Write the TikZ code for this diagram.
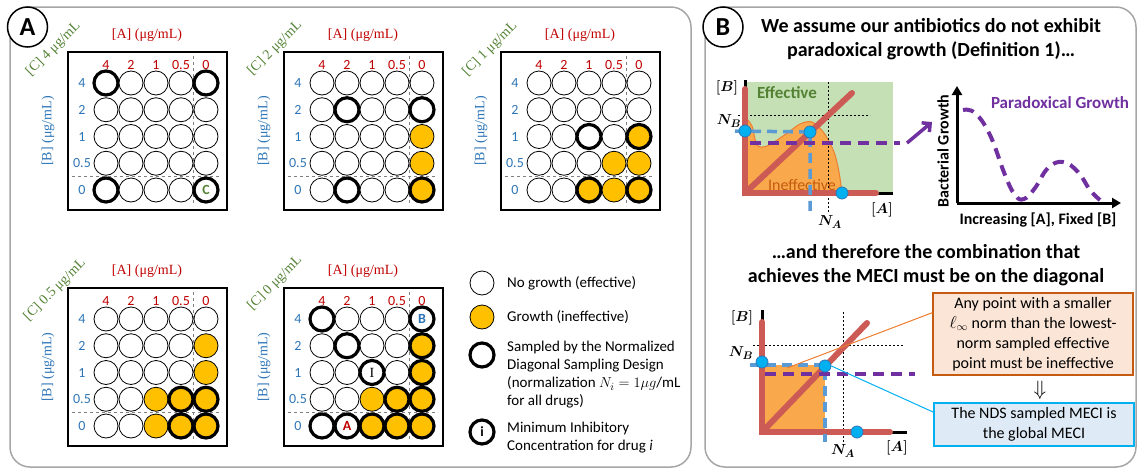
\documentclass[tikz,border=0pt]{standalone}
\usepackage{fontspec}
\setmainfont{Carlito}
\newfontfamily\cambria{Liberation Serif}
\usepackage{bm}
\usepackage{tikz}
\usetikzlibrary{positioning}
\usetikzlibrary{calc}
\usetikzlibrary{arrows.meta}
\definecolor{alabred}{HTML}{C00000}
\definecolor{blabblue}{HTML}{2E75B6}
\definecolor{clabgreen}{HTML}{548235}
\definecolor{growth}{HTML}{FFC000}
\definecolor{panelgray}{HTML}{A6A6A6}
\definecolor{effgreen}{HTML}{C5E0B4}
\definecolor{ineffor}{HTML}{F9A94B}
\definecolor{regionedge}{HTML}{ED7D31}
\definecolor{axisred}{HTML}{CC5B55}
\definecolor{dotblue}{HTML}{00B0F0}
\definecolor{dotedge}{HTML}{2E75B6}
\definecolor{nblue}{HTML}{5B9BD5}
\definecolor{purp}{HTML}{7030A0}
\definecolor{ineftext}{HTML}{C55A11}
\definecolor{notefill}{HTML}{FBE5D6}
\definecolor{noteedge}{HTML}{C55A11}
\definecolor{mecifill}{HTML}{DEEBF7}
\definecolor{meciedge}{HTML}{00B0F0}
\tikzstyle{well}=[circle,draw=black,fill=white,line width=0.8pt,minimum size=24pt,inner sep=0pt,font=\bfseries\fontsize{14}{14}\selectfont]
\tikzstyle{well-n}=[well]
\tikzstyle{well-o}=[well,fill=growth]
\tikzstyle{well-s}=[well,line width=3.2pt]
\tikzstyle{well-so}=[well,fill=growth,line width=3.2pt]
\tikzstyle{plate}=[rectangle,draw=black,line width=1.1pt,minimum width=159pt,minimum height=158pt,inner sep=0pt]
\tikzstyle{divider}=[draw=black!50,dashed,line width=0.8pt]
\tikzstyle{alab}=[text=alabred,font=\fontsize{14}{14}\selectfont]
\tikzstyle{blab}=[text=blabblue,font=\fontsize{14}{14}\selectfont]
\tikzstyle{unitlab}=[font=\cambria\fontsize{14}{14}\selectfont]
\tikzstyle{panel}=[draw=panelgray,line width=1.5pt,rounded corners=20pt]
\tikzstyle{panelmark}=[circle,draw=black,line width=1.5pt,fill=white,minimum size=40pt,inner sep=0pt,font=\bfseries\fontsize{26}{26}\selectfont]
\tikzstyle{legtext}=[anchor=west,align=left,inner sep=0pt,font=\fontsize{15}{18}\selectfont]
\tikzstyle{redaxis}=[draw=axisred,line width=6pt,line cap=round]
\tikzstyle{blackaxis}=[draw=black,line width=3pt]
\tikzstyle{guide}=[draw=black,line width=0.6pt,dash pattern=on 2pt off 2pt]
\tikzstyle{nline}=[draw=nblue,line width=3.5pt,dash pattern=on 10pt off 6pt]
\tikzstyle{pline}=[draw=purp,line width=3.5pt,dash pattern=on 11pt off 7pt]
\tikzstyle{dot}=[circle,draw=dotedge,fill=dotblue,line width=0.8pt,minimum size=12pt,inner sep=0pt]
\tikzstyle{mathlab}=[font=\fontsize{15}{15}\selectfont]
\tikzstyle{title}=[align=center,font=\bfseries\fontsize{20}{24}\selectfont]
\tikzstyle{note}=[draw,line width=1.2pt,align=center,minimum width=200pt,inner sep=2pt,font=\fontsize{16}{20}\selectfont]

\begin{document}
\begin{tikzpicture}[x=1pt,y=-1pt]
\useasboundingbox (0,0) rectangle (1138,471);

 %panels
 \draw[panel] (10,7) rectangle (691,467);
 \draw[panel] (705,7) rectangle (1136,467);
 \node[panelmark] (markA) at (27.5,27) {A};
 \node[panelmark] (markB) at (723,27) {B};

 %plates
 \foreach \p/\dx/\dy/\cx/\cy/\cc in {pa/68/52/53.5/49/4, pb/284/52/275/48.5/2, pc/501/52/490/49/1, pd/68/288/55/290/0.5, pe/284/288/275/283.5/0}
 {
   \node[plate] (\p) at (\dx+79.5,\dy+79) {};
   \draw[divider] ($(\p.north west)+(126,5)$) -- ($(\p.north west)+(126,155)$);
   \draw[divider] ($(\p.north west)+(5,125)$) -- ($(\p.north west)+(154,125)$);
   \foreach \a [count=\i] in {4,2,1,0.5,0}
     \node[alab] (\p-a\i) at ({\dx+38+25*(\i-1)},\dy+13) {\a};
   \foreach \b [count=\j] in {4,2,1,0.5,0}
     \node[blab] (\p-b\j) at (\dx+14,{\dy+31+26.75*(\j-1)}) {\b};
   \node[unitlab,text=alabred] (\p-at) at (\dx+79,\dy-17) {[A] (μg/mL)};
   \node[unitlab,text=blabblue,rotate=90] (\p-bt) at (\dx-20,\dy+79) {[B] (μg/mL)};
   \node[unitlab,text=clabgreen,rotate=45] (\p-ct) at (\cx,\cy) {[C] \cc\ μg/mL};
 }

 %C4
 \def\dx{68}
 \def\dy{52}
 \foreach \j/\row in {1/{s/{},n/{},n/{},n/{},s/{}}, 2/{n/{},n/{},n/{},n/{},n/{}}, 3/{n/{},n/{},n/{},n/{},n/{}},
                      4/{n/{},n/{},n/{},n/{},n/{}}, 5/{s/{},n/{},n/{},n/{},s/{\textcolor{clabgreen}{C}}}}
   \foreach \c/\t [count=\i] in \row
     \node[well-\c] (pa-\j-\i) at ({\dx+38+25*(\i-1)},{\dy+31+26.75*(\j-1)}) {\t};

 %C2
 \def\dx{284}
 \def\dy{52}
 \foreach \j/\row in {1/{n/{},n/{},n/{},n/{},n/{}}, 2/{n/{},s/{},n/{},n/{},s/{}}, 3/{n/{},n/{},n/{},n/{},o/{}},
                      4/{n/{},n/{},n/{},n/{},o/{}}, 5/{n/{},s/{},n/{},n/{},so/{}}}
   \foreach \c/\t [count=\i] in \row
     \node[well-\c] (pb-\j-\i) at ({\dx+38+25*(\i-1)},{\dy+31+26.75*(\j-1)}) {\t};

 %C1
 \def\dx{501}
 \def\dy{52}
 \foreach \j/\row in {1/{n/{},n/{},n/{},n/{},n/{}}, 2/{n/{},n/{},n/{},n/{},n/{}}, 3/{n/{},n/{},s/{},n/{},so/{}},
                      4/{n/{},n/{},n/{},o/{},o/{}}, 5/{n/{},n/{},so/{},o/{},so/{}}}
   \foreach \c/\t [count=\i] in \row
     \node[well-\c] (pc-\j-\i) at ({\dx+38+25*(\i-1)},{\dy+31+26.75*(\j-1)}) {\t};

 %C0.5
 \def\dx{68}
 \def\dy{288}
 \foreach \j/\row in {1/{n/{},n/{},n/{},n/{},n/{}}, 2/{n/{},n/{},n/{},n/{},o/{}}, 3/{n/{},n/{},n/{},n/{},o/{}},
                      4/{n/{},n/{},o/{},so/{},so/{}}, 5/{n/{},n/{},o/{},so/{},so/{}}}
   \foreach \c/\t [count=\i] in \row
     \node[well-\c] (pd-\j-\i) at ({\dx+38+25*(\i-1)},{\dy+31+26.75*(\j-1)}) {\t};

 %C0
 \def\dx{284}
 \def\dy{288}
 \foreach \j/\row in {1/{s/{},n/{},n/{},n/{},s/{\textcolor{blabblue}{B}}}, 2/{n/{},s/{},n/{},n/{},so/{}},
                      3/{n/{},n/{},s/{\mdseries\cambria I},n/{},so/{}}, 4/{n/{},n/{},o/{},so/{},so/{}},
                      5/{s/{},s/{\textcolor{alabred}{A}},so/{},so/{},so/{}}}
   \foreach \c/\t [count=\i] in \row
     \node[well-\c] (pe-\j-\i) at ({\dx+38+25*(\i-1)},{\dy+31+26.75*(\j-1)}) {\t};

 %legend
 \node[well-n] (leg-n) at (482,283) {};
 \node[well-o] (leg-o) at (482,317) {};
 \node[well-s] (leg-s) at (482,355) {};
 \node[well-s] (leg-i) at (482,432) {i};
 \node[legtext] (leg-nt) at (507,283) {No growth (effective)};
 \node[legtext] (leg-ot) at (507,317) {Growth (ineffective)};
 \node[legtext] (leg-st) at (507,375) {Sampled by the Normalized\\Diagonal Sampling Design\\(normalization $N_i = 1\mu g$/mL\\for all drugs)};
 \node[legtext] (leg-it) at (507,438) {Minimum Inhibitory\\Concentration for drug \textit{i}};

 %titles
 \node[title] (titleB1) at (931,39) {We assume our antibiotics do not exhibit\\paradoxical growth (Definition 1)…};
 \node[title] (titleB2) at (926,265) {…and therefore the combination that\\achieves the MECI must be on the diagonal};

 %effective region sketch
 \coordinate (o1) at (745,193);
 \coordinate (pnb1) at (745,131);
 \coordinate (pd1) at (810,132);
 \coordinate (pna1) at (842,193);
 \coordinate (nb1l) at (735,131);
 \coordinate (na1d) at (810,213);
 \fill[effgreen] (745,82) rectangle (893,193);
 \draw[regionedge,fill=ineffor,line width=1pt] plot[smooth] coordinates {(745,117) (752,126) (757,145) (767,146) (786,134) (800,124) (812,122) (824,133) (834,152) (839,172) (842,193)} -- (745,193) -- cycle;
 \node[font=\bfseries\fontsize{17}{17}\selectfont,text=clabgreen] (efftext) at (787,93) {Effective};
 \node[font=\fontsize{16}{16}\selectfont,text=ineftext] (ineftext) at (802,185) {Ineffective};
 \draw[guide] (828,82) -- (828,213);
 \draw[guide] (738,115) -- (870,115);
 \draw[blackaxis] (745,80) -- (o1) -- (893,193);
 \draw[redaxis] (745,89) -- (o1) -- (876,193);
 \draw[redaxis] (o1) -- (852,93);
 \draw[nline] (nb1l) -- (pd1) -- (na1d);
 \draw[pline] (750,143) -- (900,143);
 \node[dot] (nb1) at (pnb1) {};
 \node[dot] (d1) at (pd1) {};
 \node[dot] (na1) at (pna1) {};
 \node[mathlab] (bl1) at (727,88) {$\bm{[B]}$};
 \node[mathlab] (nbl1) at (729,121) {$\bm{N_B}$};
 \node[mathlab] (nal1) at (830,222) {$\bm{N_A}$};
 \node[mathlab] (al1) at (882,210) {$\bm{[A]}$};

 %paradoxical growth
 \coordinate (ptail) at (907,143);
 \coordinate (phead) at (932,122);
 \draw[purp,line width=3.5pt,-{Straight Barb[length=6pt,width=12pt]}] (ptail) -- (phead);
 \coordinate (o2) at (957,203);
 \draw[blackaxis,-{Triangle[length=9pt,width=10pt]}] (o2) -- (957,86);
 \draw[blackaxis,-{Triangle[length=9pt,width=10pt]}] (o2) -- (1121,203);
 \draw[pline,line width=4pt] plot[smooth,tension=0.7] coordinates {(963,110) (975,113) (990,135) (1005,175) (1015,195) (1024,199) (1035,188) (1048,168) (1063,162) (1078,172) (1090,190) (1100,200)};
 \node[rotate=90,font=\bfseries\fontsize{16}{16}\selectfont] (ylab) at (943,151) {Bacterial Growth};
 \node[font=\bfseries\fontsize{16}{16}\selectfont] (xlab) at (1038,220) {Increasing [A], Fixed [B]};
 \node[font=\bfseries\fontsize{17}{17}\selectfont,text=purp] (ptitle) at (1060,103) {Paradoxical Growth};

 %diagonal sketch
 \coordinate (o3) at (762,432);
 \coordinate (pnb3) at (762,362);
 \coordinate (pd3) at (825,366);
 \coordinate (pna3) at (857,432);
 \coordinate (nb3l) at (750,365);
 \coordinate (na3d) at (825,442);
 \coordinate (sqin) at (787,368);
 \fill[ineffor] (762,365) rectangle (825,432);
 \draw[guide] (843,312) -- (843,447);
 \draw[guide] (753,345) -- (903,345);
 \draw[blackaxis] (762,310) -- (o3) -- (907,432);
 \draw[redaxis] (762,322) -- (o3) -- (890,432);
 \draw[redaxis] (o3) -- (867,323);
 \draw[nline] (nb3l) -- (825,365) -- (na3d);
 \draw[pline] (765,374) -- (915,374);
 \node[dot] (nb3) at (pnb3) {};
 \node[dot] (d3) at (pd3) {};
 \node[dot] (na3) at (pna3) {};
 \node[mathlab] (bl3) at (742,318) {$\bm{[B]}$};
 \node[mathlab] (nbl3) at (741,353) {$\bm{N_B}$};
 \node[mathlab] (nal3) at (843,451) {$\bm{N_A}$};
 \node[mathlab] (al3) at (897,448) {$\bm{[A]}$};

 %notes
 \node[note,draw=noteedge,fill=notefill,minimum height=82pt] (normbox) at (1033,334) {Any point with a smaller\\$\ell_\infty$ norm than the lowest-\\norm sampled effective\\point must be ineffective};
 \node[font=\fontsize{20}{20}\selectfont] (impl) at (1040,390) {$\Downarrow$};
 \node[note,draw=meciedge,fill=mecifill,minimum height=43pt] (mecibox) at (1034,424.5) {The NDS sampled MECI is\\the global MECI};
 \draw[regionedge,line width=1pt] (sqin) -- (normbox.168);
 \draw[meciedge,line width=1pt] (d3.east) -- (mecibox.173);

\end{tikzpicture}
\end{document}
